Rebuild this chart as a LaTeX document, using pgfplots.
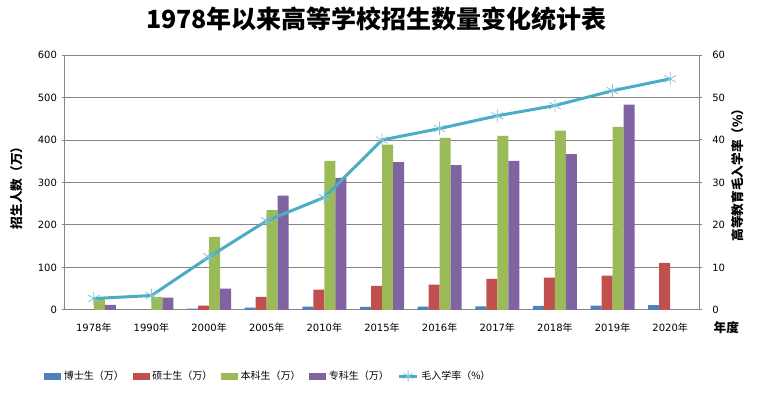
\documentclass[border=0pt]{standalone}
\usepackage{pgfplots}
\pgfplotsset{compat=1.18}
\usepackage{fontspec}
\setmainfont{DejaVu Sans}
\newfontfamily\cjk{Noto Sans CJK SC}
\definecolor{cblue}{HTML}{4F81BD}
\definecolor{cred}{HTML}{C0504D}
\definecolor{cgreen}{HTML}{9BBB59}
\definecolor{cpurple}{HTML}{8064A2}
\definecolor{cline}{HTML}{4BACC6}
\definecolor{cgrid}{HTML}{868686}
\pgfplotsset{
  barleg/.style={legend image code/.code={\path[##1,draw=none] (0pt,-2.6pt) rectangle (12.75pt,2.6pt);}},
  lineleg/.style={legend image code/.code={\draw[##1,mark=none] (0pt,0pt) -- (13.5pt,0pt);
      \draw[##1,only marks] plot coordinates {(6.75pt,0pt)};}},
}
\begin{document}
\begin{tikzpicture}
\path[use as bounding box] (0,0) rectangle (568.5pt,297pt);
\begin{axis}[
  at={(48.75pt,64.5pt)}, anchor=south west,
  scale only axis, width=475.5pt, height=191.25pt,
  xmin=-0.5, xmax=10.5, ymin=0, ymax=600,
  ybar=0pt, bar width=8.25pt,
  xtick={0,...,10},
  xticklabels={1978{\cjk 年},1990{\cjk 年},2000{\cjk 年},2005{\cjk 年},2010{\cjk 年},2015{\cjk 年},2016{\cjk 年},2017{\cjk 年},2018{\cjk 年},2019{\cjk 年},2020{\cjk 年}},
  x tick style={draw=none},
  ytick={0,100,...,600},
  ytick pos=left, tick align=outside, major tick length=2.5pt,
  y tick style={cgrid, line width=0.75pt},
  ymajorgrids, grid style={cgrid, line width=0.75pt},
  axis line style={cgrid, line width=0.75pt},
  tick label style={font=\fontsize{7.5}{9}\selectfont},
  /pgf/number format/assume math mode=true,
  xticklabel style={yshift=-4pt},
  legend columns=5,
  legend style={draw=none, fill=none, at={(-0.0394,-0.259)}, anchor=west,
    font=\cjk\fontsize{7.5}{9}\selectfont,
    /tikz/every even column/.append style={column sep=4.5pt}},
  legend cell align=left,
]
\addplot[fill=cblue, draw=none, barleg] coordinates {(0,0) (1,0) (2,3) (3,5.5) (4,7.8) (5,7.5) (6,7.7) (7,8.4) (8,9.6) (9,10.5) (10,11.6)};
\addlegendentry{博士生（万）}
\addplot[fill=cred, draw=none, barleg] coordinates {(0,0) (1,0) (2,10) (3,31) (4,47.8) (5,57) (6,59.6) (7,73.5) (8,76) (9,81) (10,111)};
\addlegendentry{硕士生（万）}
\addplot[fill=cgreen, draw=none, barleg] coordinates {(0,27) (1,30.6) (2,172) (3,235) (4,351) (5,389) (6,405) (7,410) (8,422) (9,431)};
\addlegendentry{本科生（万）}
\addplot[fill=cpurple, draw=none, barleg] coordinates {(0,12) (1,29) (2,50) (3,269) (4,311) (5,348) (6,341) (7,351) (8,367) (9,483)};
\addlegendentry{专科生（万）}
\addlegendimage{color=cline, line width=2.25pt, mark=asterisk, mark size=4pt, mark options={line width=0.6pt, color=cline!70}, lineleg}
\addlegendentry{毛入学率（\%）}
\end{axis}
\begin{axis}[
  at={(48.75pt,64.5pt)}, anchor=south west,
  scale only axis, width=475.5pt, height=191.25pt,
  xmin=-0.5, xmax=10.5, ymin=0, ymax=60,
  hide x axis,
  axis y line*=right,
  ytick={0,10,...,60},
  tick align=outside, major tick length=2.5pt,
  y tick style={cgrid, line width=0.75pt},
  axis line style={cgrid, line width=0.75pt, -},
  tick label style={font=\fontsize{7.5}{9}\selectfont},
  /pgf/number format/assume math mode=true,
  yticklabel style={xshift=4pt},
]
\addplot[color=cline, line width=2.25pt, mark=asterisk, mark size=5pt, mark options={line width=0.6pt, color=cline!70}]
  coordinates {(0,2.7) (1,3.4) (2,12.5) (3,21) (4,26.5) (5,40) (6,42.7) (7,45.7) (8,48.1) (9,51.6) (10,54.4)};
\end{axis}
\node[font=\cjk\bfseries\fontsize{18.75}{20}\selectfont] at (282.4pt,282.75pt) {1978年以来高等学校招生数量变化统计表};
\node[font=\cjk\bfseries\fontsize{9.5}{11}\selectfont, rotate=90] at (12.75pt,158.25pt) {招生人数（万）};
\node[font=\cjk\bfseries\fontsize{9.5}{11}\selectfont, rotate=90] at (553.5pt,168pt) {高等教育毛入学率（\%）};
\node[font=\cjk\bfseries\fontsize{9.5}{11}\selectfont, anchor=west, inner sep=0pt] at (535pt,51pt) {年度};
\end{tikzpicture}
\end{document}
